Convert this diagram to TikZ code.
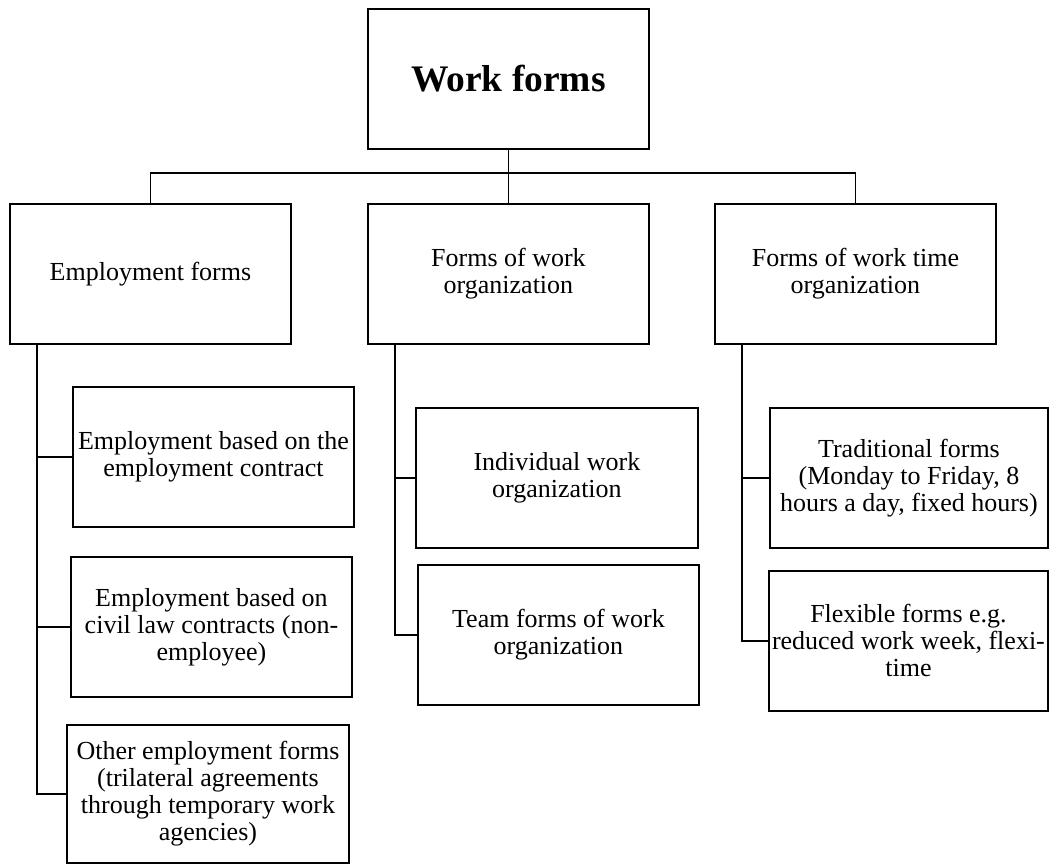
\documentclass[tikz,border=0pt]{standalone}
\usepackage{fontspec}
\setmainfont{Liberation Serif}
\begin{document}
\begin{tikzpicture}[x=1pt,y=-1pt,
  box/.style={draw, line width=1.9pt, inner sep=0pt, align=center, anchor=north west,
    font=\fontsize{26}{27}\selectfont, minimum width=281pt, minimum height=140pt},
  conn/.style={line width=1.9pt}]
\useasboundingbox (0,0) rectangle (1049,865);
\node[box, font=\fontsize{37.5}{42}\selectfont\bfseries] (top) at (367,8) {Work forms};
\node[box] (emp) at (9,203) {Employment forms};
\node[box] (org) at (367,203) {Forms of work\\organization};
\node[box] (time) at (714,203) {Forms of work time\\organization};
\node[box] (e1) at (72,386) {Employment based on the\\employment contract};
\node[box] (e2) at (70,556) {Employment based on\\civil law contracts (non-\\employee)};
\node[box, minimum width=282pt, minimum height=138pt] (e3) at (66,724) {Other employment forms\\(trilateral agreements\\through temporary work\\agencies)};
\node[box, minimum width=282pt] (o1) at (415,407) {Individual work\\organization};
\node[box] (o2) at (417,564) {Team forms of work\\organization};
\node[box, minimum width=278pt] (t1) at (769,407) {Traditional forms\\(Monday to Friday, 8\\hours a day, fixed hours)};
\node[box, minimum width=279pt] (t2) at (768,570) {Flexible forms e.g.\\reduced work week, flexi-\\time};
\draw[conn] (top.south) -- (org.north);
\draw[conn] (emp.north) -- ++(0,-30) -| (time.north);
\coordinate (eL) at ([xshift=28pt]emp.south west);
\coordinate (oL) at ([xshift=28pt]org.south west);
\coordinate (tL) at ([xshift=28pt]time.south west);
\draw[conn] (eL) |- (e3.west);
\draw[conn] (eL |- e1.west) -- (e1.west);
\draw[conn] (eL |- e2.west) -- (e2.west);
\draw[conn] (oL) |- (o2.west);
\draw[conn] (oL |- o1.west) -- (o1.west);
\draw[conn] (tL) |- (t2.west);
\draw[conn] (tL |- t1.west) -- (t1.west);
\end{tikzpicture}
\end{document}
